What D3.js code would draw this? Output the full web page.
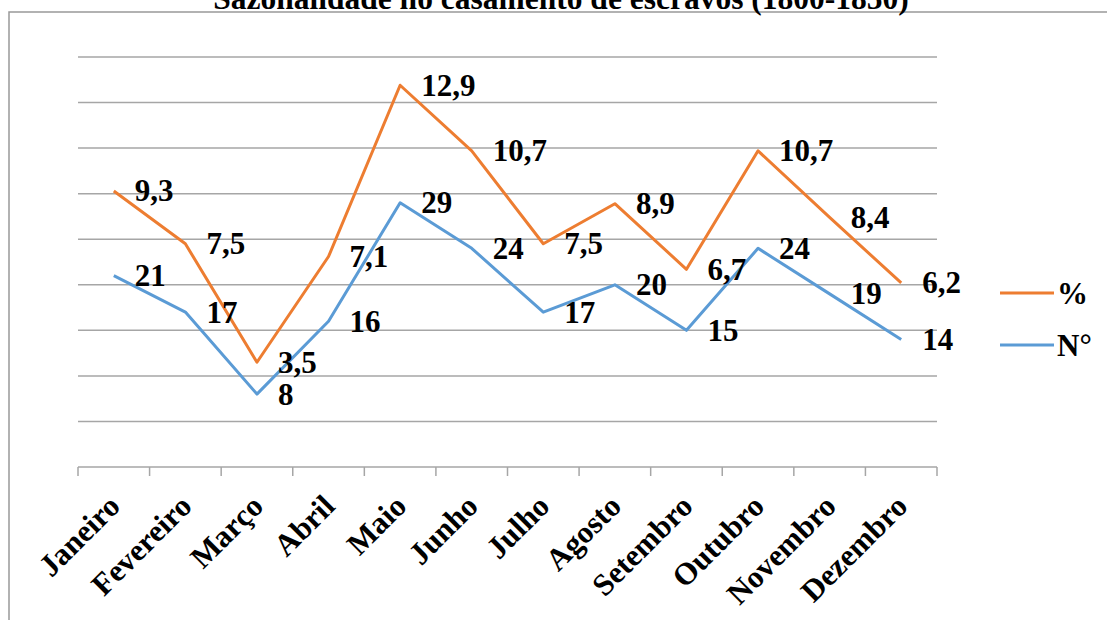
<!DOCTYPE html>
<html>
<head>
<meta charset="utf-8">
<script src="https://cdn.jsdelivr.net/npm/d3@7"></script>
<style>
  body { margin: 0; background: #fff; }
</style>
</head>
<body>
<div id="chart"></div>
<script>
// data
const months = ['Janeiro', 'Fevereiro', 'Março', 'Abril', 'Maio', 'Junho',
                'Julho', 'Agosto', 'Setembro', 'Outubro', 'Novembro', 'Dezembro'];
const numCasamentos = [21, 17, 8, 16, 29, 24, 17, 20, 15, 24, 19, 14];
const pctCasamentos = [9.3, 7.5, 3.5, 7.1, 12.9, 10.7, 7.5, 8.9, 6.7, 10.7, 8.4, 6.2];
const yTicks = [5, 10, 15, 20, 25, 30, 35, 40, 45];

const W = 1107, H = 620;
const orange = '#ED7D31', blue = '#5B9BD5', grid = '#a6a6a6';
const serif = "Liberation Serif, DejaVu Serif";

const svg = d3.select('#chart').append('svg')
  .attr('width', W).attr('height', H)
  .style('font-family', serif)
  .attr('font-weight', 'bold');

// outer chart frame (only top/left visible in the crop)
svg.append('rect')
  .attr('x', 9).attr('y', 12)
  .attr('width', W + 20).attr('height', H + 20)
  .attr('fill', 'none').attr('stroke', '#999').attr('stroke-width', 1.5);

svg.append('text')
  .attr('x', 561).attr('y', 9)
  .attr('text-anchor', 'middle')
  .attr('font-size', '31.5px')
  .text('Sazonalidade no casamento de escravos (1800-1850)');

const x = d3.scaleBand().domain(months).range([78, 937]);
const y = d3.scaleLinear().domain([0, 45]).range([467, 57]);
const cx = m => x(m) + x.bandwidth() / 2;

// gridlines
svg.append('g')
  .selectAll('line')
  .data(yTicks)
  .enter().append('line')
    .attr('x1', 78).attr('x2', 937)
    .attr('y1', d => y(d)).attr('y2', d => y(d))
    .attr('stroke', grid).attr('stroke-width', 1.5);

// x axis with ticks between categories
const xAxis = svg.append('g')
  .attr('transform', `translate(0,${y(0)})`);
xAxis.append('line')
  .attr('x1', 78).attr('x2', 937)
  .attr('stroke', grid).attr('stroke-width', 1.5);
xAxis.selectAll('.tick')
  .data(months.concat(['end']))
  .enter().append('line')
    .attr('x1', (d, i) => i < months.length ? x(d) : 937)
    .attr('x2', (d, i) => i < months.length ? x(d) : 937)
    .attr('y1', 0).attr('y2', 9)
    .attr('stroke', grid).attr('stroke-width', 1.5);

svg.append('g')
  .selectAll('text')
  .data(months)
  .enter().append('text')
    .attr('transform', d => `translate(${cx(d) + 8},508) rotate(-45)`)
    .attr('text-anchor', 'end')
    .attr('font-size', '31px')
    .text(d => d);

// stacked line: % sits on top of N°
const rows = months.map((m, i) => ({
  month: m,
  num: numCasamentos[i],
  pct: pctCasamentos[i],
  top: numCasamentos[i] + pctCasamentos[i]
}));

const lineNum = d3.line().x(d => cx(d.month)).y(d => y(d.num));
const lineTop = d3.line().x(d => cx(d.month)).y(d => y(d.top));

svg.append('path').datum(rows)
  .attr('d', lineNum)
  .attr('fill', 'none').attr('stroke', blue).attr('stroke-width', 3)
  .attr('stroke-linejoin', 'round');

svg.append('path').datum(rows)
  .attr('d', lineTop)
  .attr('fill', 'none').attr('stroke', orange).attr('stroke-width', 3)
  .attr('stroke-linejoin', 'round');

const fmt = v => String(v).replace('.', ',');

svg.append('g').selectAll('text')
  .data(rows).enter().append('text')
    .attr('x', d => cx(d.month) + 21)
    .attr('y', d => y(d.top) + 10.5)
    .attr('font-size', '31px')
    .text(d => fmt(d.pct));

svg.append('g').selectAll('text')
  .data(rows).enter().append('text')
    .attr('x', d => cx(d.month) + 21)
    .attr('y', d => y(d.num) + 10.5)
    .attr('font-size', '31px')
    .text(d => fmt(d.num));

// legend
const legendItems = [
  { name: '%', color: orange, ly: 293 },
  { name: 'N°', color: blue, ly: 345 }
];
legendItems.forEach(item => {
  svg.append('line')
    .attr('x1', 1000).attr('x2', 1054)
    .attr('y1', item.ly).attr('y2', item.ly)
    .attr('stroke', item.color).attr('stroke-width', 3);
  svg.append('text')
    .attr('x', 1057).attr('y', item.ly + 11)
    .attr('font-size', '31px')
    .text(item.name);
});
</script>
</body>
</html>
